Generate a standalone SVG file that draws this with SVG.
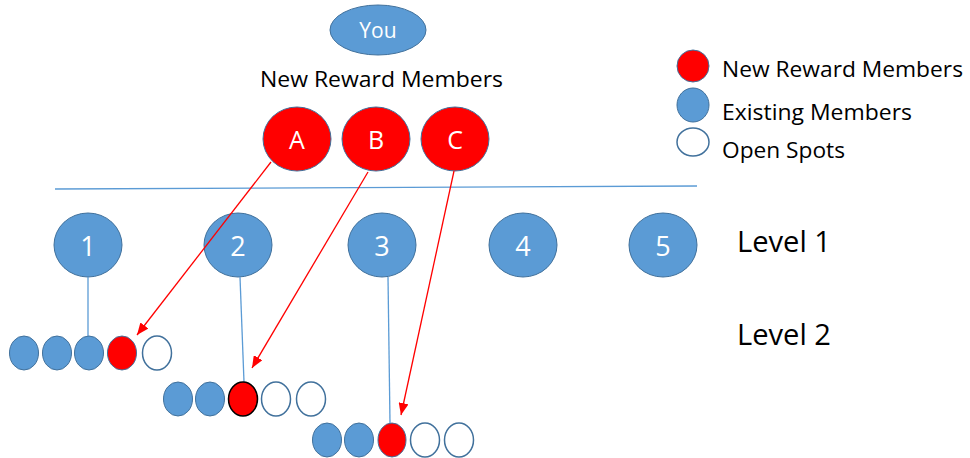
<svg xmlns="http://www.w3.org/2000/svg" width="970" height="458" viewBox="0 0 970 458">
<defs>
<style>
.blue{fill:#5b9bd5;stroke:#41719c;stroke-width:1}
.red{fill:#ff0000;stroke:#41719c;stroke-width:1}
.redk{fill:#ff0000;stroke:#000;stroke-width:1.5}
.open{fill:#fff;stroke:#41719c;stroke-width:1.5}
.wt{font-family:"Open Sans","Liberation Sans",sans-serif;fill:#fff;text-anchor:middle}
.bt{font-family:"Open Sans","Liberation Sans",sans-serif;fill:#000}
.link{stroke:#5b9bd5;stroke-width:1.3;fill:none}
.arr{stroke:#ff0000;stroke-width:1.3;fill:none;marker-end:url(#ah)}
</style>
<marker id="ah" viewBox="0 0 12 10" refX="12" refY="5" markerWidth="12" markerHeight="10" markerUnits="userSpaceOnUse" orient="auto">
<path d="M0,0 L12,5 L0,10 z" fill="#ff0000"/>
</marker>
</defs>
<rect width="970" height="458" fill="#fff"/>

<g id="you"><ellipse class="blue" cx="378" cy="30" rx="48" ry="25"/><text class="wt" x="378" y="38" font-size="21">You</text></g>
<g id="title"><text class="bt" x="260" y="87" font-size="21" textLength="243" lengthAdjust="spacingAndGlyphs">New Reward Members</text></g>

<g id="nodeA"><ellipse class="red" cx="297" cy="139" rx="34" ry="32"/><text class="wt" x="297" y="149" font-size="25">A</text></g>
<g id="nodeB"><ellipse class="red" cx="376" cy="139" rx="34" ry="32"/><text class="wt" x="376" y="149" font-size="25">B</text></g>
<g id="nodeC"><ellipse class="red" cx="455" cy="139" rx="34" ry="32"/><text class="wt" x="455" y="149" font-size="25">C</text></g>

<g id="divider"><line x1="55" y1="189" x2="697" y2="186" stroke="#5b9bd5" stroke-width="1.3"/></g>

<g id="legend">
<ellipse class="red" cx="693" cy="66" rx="16" ry="16"/>
<ellipse class="blue" cx="693" cy="105" rx="16" ry="17"/>
<ellipse class="open" cx="693" cy="142" rx="16" ry="14"/>
<text class="bt" x="722" y="77" font-size="21" textLength="241" lengthAdjust="spacingAndGlyphs">New Reward Members</text>
<text class="bt" x="722" y="120" font-size="21" textLength="190" lengthAdjust="spacingAndGlyphs">Existing Members</text>
<text class="bt" x="722" y="158" font-size="21" textLength="123" lengthAdjust="spacingAndGlyphs">Open Spots</text>
</g>

<g id="level1">
<g id="n1"><ellipse class="blue" cx="88" cy="245" rx="34" ry="32"/><text class="wt" x="88" y="256" font-size="27">1</text></g>
<g id="n2"><ellipse class="blue" cx="238" cy="245" rx="34" ry="32"/><text class="wt" x="238" y="256" font-size="27">2</text></g>
<g id="n3"><ellipse class="blue" cx="382" cy="245" rx="34" ry="32"/><text class="wt" x="382" y="256" font-size="27">3</text></g>
<g id="n4"><ellipse class="blue" cx="523" cy="245" rx="34" ry="32"/><text class="wt" x="523" y="256" font-size="27">4</text></g>
<g id="n5"><ellipse class="blue" cx="663" cy="245" rx="34" ry="32"/><text class="wt" x="663" y="256" font-size="27">5</text></g>
</g>
<g id="labels">
<text class="bt" x="737" y="252" font-size="29.5" textLength="94" lengthAdjust="spacingAndGlyphs">Level 1</text>
<text class="bt" x="737" y="345" font-size="29.5" textLength="94" lengthAdjust="spacingAndGlyphs">Level 2</text>
</g>

<g id="connectors">
<line class="link" x1="88" y1="277" x2="88" y2="336"/>
<line class="link" x1="240" y1="277" x2="244" y2="382"/>
<line class="link" x1="388" y1="277" x2="390" y2="423"/>
<line class="arr" x1="271" y1="162" x2="137" y2="335"/>
<line class="arr" x1="368" y1="172" x2="252" y2="368"/>
<line class="arr" x1="454" y1="171" x2="401" y2="415"/>
</g>

<g id="row1">
<ellipse class="blue" cx="24" cy="353" rx="14.5" ry="17"/>
<ellipse class="blue" cx="57" cy="353" rx="14.5" ry="17"/>
<ellipse class="blue" cx="89" cy="353" rx="14.5" ry="17"/>
<ellipse class="red" cx="122" cy="353" rx="14.5" ry="17"/>
<ellipse class="open" cx="157" cy="353" rx="14.5" ry="17"/>
</g>
<g id="row2">
<ellipse class="blue" cx="178" cy="399" rx="14.5" ry="17"/>
<ellipse class="blue" cx="210" cy="399" rx="14.5" ry="17"/>
<ellipse class="redk" cx="243" cy="399" rx="14.5" ry="17"/>
<ellipse class="open" cx="276" cy="399" rx="14.5" ry="17"/>
<ellipse class="open" cx="311" cy="399" rx="14.5" ry="17"/>
</g>
<g id="row3">
<ellipse class="blue" cx="327" cy="440" rx="14.5" ry="17"/>
<ellipse class="blue" cx="359" cy="440" rx="14.5" ry="17"/>
<ellipse class="red" cx="392" cy="440" rx="14" ry="17"/>
<ellipse class="open" cx="425" cy="440" rx="14.5" ry="17"/>
<ellipse class="open" cx="459" cy="440" rx="14.5" ry="17"/>
</g>
</svg>
